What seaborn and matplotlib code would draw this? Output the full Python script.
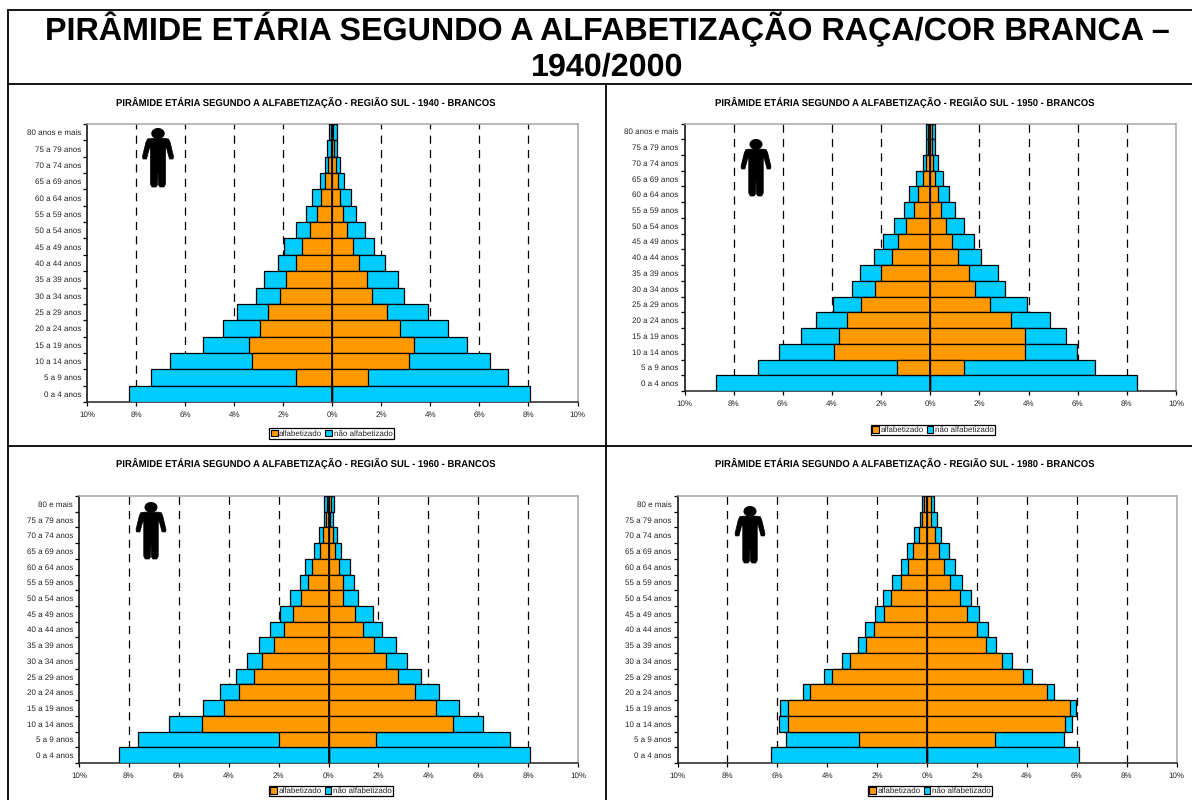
import matplotlib
matplotlib.use('Agg')
import matplotlib.pyplot as plt
from matplotlib.patches import Ellipse, Polygon, Rectangle
import numpy as np
import pandas as pd
import seaborn as sns

W, H = 1192, 800

# faixas etarias, de cima para baixo
idades_1 = ['80 anos e mais', '75 a 79 anos', '70 a 74 anos', '65 a 69 anos', '60 a 64 anos',
            '55 a 59 anos', '50 a 54 anos', '45 a 49 anos', '40 a 44 anos', '35 a 39 anos',
            '30 a 34 anos', '25 a 29 anos', '20 a 24 anos', '15 a 19 anos', '10 a 14 anos',
            '5 a 9 anos', '0 a 4 anos']
idades_2 = ['80 e mais'] + idades_1[1:]

# 1940 (%) - total e alfabetizado, lado esquerdo e lado direito
tot_e_1940 = [.15, .20, .31, .51, .83, 1.08, 1.47, 1.95, 2.21, 2.77, 3.11, 3.90, 4.44, 5.26, 6.60, 7.40, 8.30]
alf_e_1940 = [.05, .07, .17, .28, .46, .64, .92, 1.25, 1.46, 1.87, 2.14, 2.64, 2.95, 3.38, 3.27, 1.49, 0]
alf_d_1940 = [.05, .07, .14, .23, .32, .42, .62, .83, 1.08, 1.41, 1.62, 2.25, 2.78, 3.32, 3.11, 1.47, 0]
tot_d_1940 = [.20, .18, .31, .46, .76, .97, 1.33, 1.71, 2.14, 2.67, 2.94, 3.92, 4.70, 5.48, 6.44, 7.16, 8.05]

# 1950
tot_e_1950 = [.16, .19, .31, .57, .87, 1.07, 1.48, 1.92, 2.27, 2.85, 3.19, 3.95, 4.63, 5.25, 6.14, 6.99, 8.71]
alf_e_1950 = [.08, .08, .19, .31, .51, .68, .98, 1.30, 1.57, 2.00, 2.26, 2.82, 3.40, 3.73, 3.90, 1.35, 0]
alf_d_1950 = [.07, .07, .13, .20, .33, .45, .66, .90, 1.12, 1.57, 1.82, 2.43, 3.28, 3.86, 3.87, 1.36, 0]
tot_d_1950 = [.18, .19, .33, .51, .75, 1.00, 1.36, 1.77, 2.06, 2.76, 3.05, 3.92, 4.89, 5.51, 5.98, 6.70, 8.40]

# 1960
tot_e_1960 = [.19, .20, .37, .59, .96, 1.16, 1.53, 1.93, 2.34, 2.77, 3.28, 3.72, 4.35, 5.05, 6.38, 7.63, 8.39]
alf_e_1960 = [.08, .11, .23, .36, .65, .82, 1.11, 1.42, 1.80, 2.18, 2.66, 3.00, 3.58, 4.20, 5.08, 2.00, 0]
alf_d_1960 = [.09, .08, .17, .26, .43, .57, .60, 1.08, 1.39, 1.83, 2.32, 2.77, 3.48, 4.32, 4.97, 1.92, 0]
tot_d_1960 = [.22, .19, .33, .51, .85, 1.04, 1.19, 1.80, 2.15, 2.71, 3.14, 3.70, 4.44, 5.23, 6.18, 7.29, 8.07]

# 1980
tot_e_1980 = [.22, .30, .51, .82, 1.06, 1.39, 1.78, 2.07, 2.47, 2.77, 3.40, 4.12, 4.96, 5.88, 5.94, 5.66, 6.27]
alf_e_1980 = [.13, .19, .34, .55, .78, 1.06, 1.45, 1.74, 2.14, 2.46, 3.08, 3.82, 4.69, 5.58, 5.57, 2.72, 0]
alf_d_1980 = [.16, .18, .31, .49, .69, .94, 1.33, 1.60, 1.99, 2.38, 3.02, 3.86, 4.79, 5.72, 5.52, 2.74, 0]
tot_d_1980 = [.30, .39, .55, .87, 1.12, 1.41, 1.78, 2.07, 2.44, 2.78, 3.40, 4.22, 5.10, 5.97, 5.82, 5.49, 6.11]

LARANJA = '#FF9900'
AZUL = '#00CCFF'
CINZA = '#A6A6A6'
FONTE = ['Liberation Sans', 'DejaVu Sans']

sns.set_theme(style='white')
plt.rcParams['font.family'] = FONTE
plt.rcParams['text.hinting'] = 'no_hinting'

fig = plt.figure(figsize=(W / 100, H / 100), dpi=100, facecolor='white')


def px_fig(x, y):
    return x / W, 1 - y / H


def boneco(cx, topo, base):
    # figura humana desenhada em pixels da imagem
    esc = (base - topo) / 59
    pts = [(-7, 10.5), (7, 10.5), (10.5, 11), (12, 14), (15.5, 28.5), (15, 31), (11.5, 31), (8.5, 20),
           (7.5, 20), (7.5, 56), (6, 59), (2, 59), (0.6, 57), (0, 44), (-0.6, 57), (-2, 59), (-6, 59),
           (-7.5, 56), (-7.5, 20), (-8.5, 20), (-11.5, 31), (-15, 31), (-15.5, 28.5), (-12, 14), (-10.5, 11)]
    pts = [((cx + a * esc) / W, 1 - (topo + b * esc) / H) for a, b in pts]
    fig.add_artist(Polygon(pts, closed=True, transform=fig.transFigure, fc='black', ec='black', lw=.5, zorder=10))
    xc, yc = px_fig(cx, topo + 5.5 * esc)
    fig.add_artist(Ellipse((xc, yc), 13.5 * esc / W, 11 * esc / H, transform=fig.transFigure, fc='black', ec='none', zorder=10))


def piramide(caixa, titulo, titulo_xy, idades, tot_e, alf_e, alf_d, tot_d, legenda_xy, icone):
    x0, x1, y0, y1 = caixa
    ax = fig.add_axes([x0 / W, 1 - y1 / H, (x1 - x0) / W, (y1 - y0) / H])
    ax.set_xlim(-10, 10)
    # total por baixo, alfabetizado por cima, como na pilha do original
    for serie, cor in ((-np.array(tot_e), AZUL), (np.array(tot_d), AZUL),
                       (-np.array(alf_e), LARANJA), (np.array(alf_d), LARANJA)):
        df = pd.DataFrame({'idade': idades, 'valor': serie})
        sns.barplot(data=df, x='valor', y='idade', color=cor, width=1.0, saturation=1,
                    edgecolor='black', linewidth=.9, orient='h', ax=ax, zorder=3)
    ax.set_xlim(-10, 10)
    ax.set_ylim(len(idades) - .5, -.5)
    ax.set_xlabel('')
    ax.set_ylabel('')
    ax.axvline(0, color='black', lw=1.2, zorder=4)
    for v in range(-8, 9, 2):
        if v != 0:
            ax.axvline(v, color='black', lw=.9, dashes=(6.5, 5), zorder=1)
    ax.set_xticks(range(-10, 11, 2))
    ax.set_xticklabels([f'{abs(v)}%' for v in range(-10, 11, 2)])
    ax.set_yticks(np.arange(len(idades)))
    ax.set_yticklabels(idades)
    ax.set_yticks(np.arange(len(idades) + 1) - .5, minor=True)
    ax.tick_params(axis='y', which='major', length=0, labelsize=5.8, labelcolor='#222222', pad=4.3)
    ax.tick_params(axis='y', which='minor', length=3, width=.9, color='black', left=True)
    ax.tick_params(axis='x', length=3, width=.9, color='black', bottom=True, labelsize=5.8, labelcolor='#222222', pad=3.5)
    ax.spines['left'].set_color('black')
    ax.spines['bottom'].set_color('#222222')
    ax.spines['top'].set_color(CINZA)
    ax.spines['right'].set_color(CINZA)
    for s in ax.spines.values():
        s.set_linewidth(1.1)
        s.set_visible(True)

    fig.text(*px_fig(*titulo_xy), titulo, ha='center', va='center', fontsize=6.85, fontweight='bold', color='black')

    hs = [Rectangle((0, 0), 1, 1, fc=LARANJA, ec='black', lw=.8), Rectangle((0, 0), 1, 1, fc=AZUL, ec='black', lw=.8)]
    leg = ax.legend(hs, ['alfabetizado', 'não alfabetizado'], loc='center', ncol=2,
                    bbox_to_anchor=px_fig(*legenda_xy), bbox_transform=fig.transFigure,
                    fontsize=5.8, frameon=True, fancybox=False, framealpha=1, edgecolor='black',
                    handlelength=.85, handleheight=.85, handletextpad=.2, columnspacing=.35,
                    borderpad=.15, borderaxespad=0, labelcolor='#222222')
    leg.get_frame().set_linewidth(.9)
    boneco(*icone)


piramide((87, 577.5, 124, 402), 'PIRÂMIDE ETÁRIA SEGUNDO A ALFABETIZAÇÃO - REGIÃO SUL - 1940 - BRANCOS', (306, 103.5),
         idades_1, tot_e_1940, alf_e_1940, alf_d_1940, tot_d_1940, (331.5, 433.5), (158, 128, 187))
piramide((684.5, 1176, 123.5, 391), 'PIRÂMIDE ETÁRIA SEGUNDO A ALFABETIZAÇÃO - REGIÃO SUL - 1950 - BRANCOS', (905, 103.5),
         idades_1, tot_e_1950, alf_e_1950, alf_d_1950, tot_d_1950, (933, 430), (756, 139, 196))
piramide((79, 578, 496, 763), 'PIRÂMIDE ETÁRIA SEGUNDO A ALFABETIZAÇÃO - REGIÃO SUL - 1960 - BRANCOS', (306, 464),
         idades_2, tot_e_1960, alf_e_1960, alf_d_1960, tot_d_1960, (331, 791), (151, 502, 559))
piramide((677.5, 1176.5, 496, 763), 'PIRÂMIDE ETÁRIA SEGUNDO A ALFABETIZAÇÃO - REGIÃO SUL - 1980 - BRANCOS', (905, 464),
         idades_2, tot_e_1980, alf_e_1980, alf_d_1980, tot_d_1980, (930, 791), (750, 506, 563))

# titulo geral e moldura
fig.text(*px_fig(607, 29), 'PIRÂMIDE ETÁRIA SEGUNDO A ALFABETIZAÇÃO RAÇA/COR BRANCA –',
         ha='center', va='center', fontsize=23.2, fontweight='bold', color='black')
fig.text(*px_fig(607, 67), '1940/2000', ha='center', va='center', fontsize=23.2, fontweight='bold', color='black')

for a, b in (((8, 10), (8, 800)), ((606, 84), (606, 800)), ((8, 84), (1192, 84)), ((8, 446), (1192, 446)), ((8, 10), (1192, 10))):
    fig.add_artist(plt.Line2D([a[0] / W, b[0] / W], [1 - a[1] / H, 1 - b[1] / H], color='black', lw=1.3, transform=fig.transFigure))

fig.savefig('out.png', dpi=100)
